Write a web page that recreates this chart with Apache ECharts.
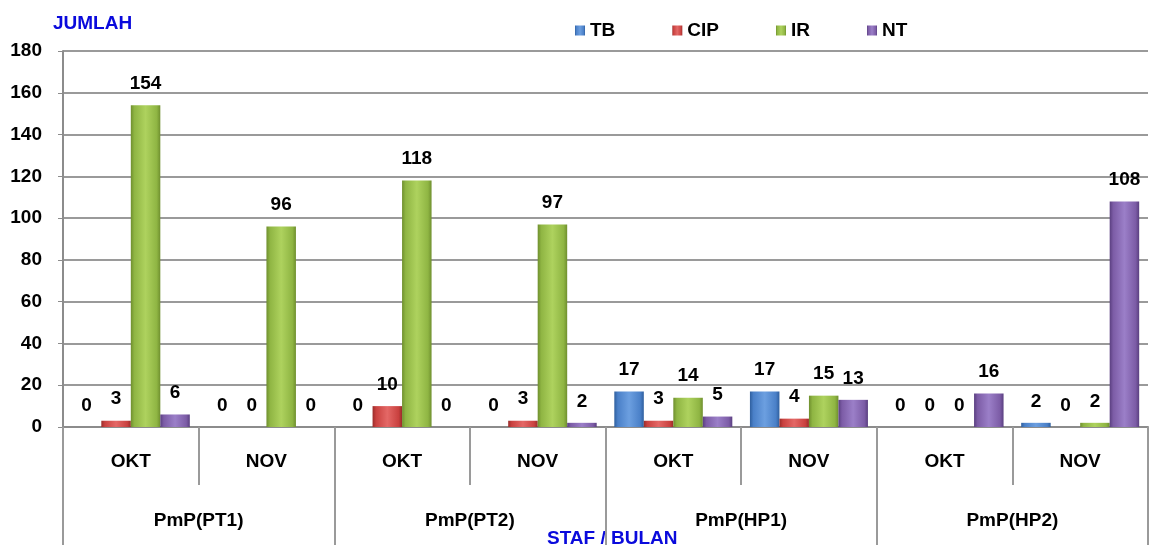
<!DOCTYPE html>
<html>
<head>
<meta charset="utf-8">
<script src="https://cdn.jsdelivr.net/npm/echarts@6/dist/echarts.min.js"></script>
<style>html,body{margin:0;padding:0;background:#fff}#c{width:1149px;height:547px}</style>
</head>
<body>
<div id="c"></div>
<script>
const months = ['OKT','NOV','OKT','NOV','OKT','NOV','OKT','NOV'];
const groups = ['PmP(PT1)','PmP(PT2)','PmP(HP1)','PmP(HP2)'];
const seriesNames = ['TB','CIP','IR','NT'];
const tb  = [0, 0, 0, 0, 17, 17, 0, 2];
const cip = [3, 0, 10, 3, 3, 4, 0, 0];
const ir  = [154, 96, 118, 97, 14, 15, 0, 2];
const nt  = [6, 0, 0, 2, 5, 13, 16, 108];
const yTicks = [0, 20, 40, 60, 80, 100, 120, 140, 160, 180];

const FONT = '"Liberation Sans", Arial, sans-serif';
const palette = [
  {base:'#4a80c8', light:'#6c9fe0', dark:'#2f5f9e'},
  {base:'#c9413f', light:'#e46866', dark:'#9a2c2a'},
  {base:'#8fb543', light:'#aed25e', dark:'#6f8f2e'},
  {base:'#7c5ca6', light:'#9b7fc8', dark:'#5a3f80'}
];
function grad(p){
  return new echarts.graphic.LinearGradient(0,0,1,0,[
    {offset:0,color:p.dark},{offset:0.12,color:p.base},
    {offset:0.5,color:p.light},{offset:0.88,color:p.base},{offset:1,color:p.dark}
  ]);
}
const values = [tb, cip, ir, nt];
const chart = echarts.init(document.getElementById('c'));
chart.setOption({
  animation:false,
  textStyle:{fontFamily:FONT},
  grid:{left:63, right:1, top:51, bottom:120, containLabel:false},
  legend:{
    left:575, top:21, padding:0, itemWidth:10, itemHeight:10, itemGap:57, icon:'rect',
    data:seriesNames,
    textStyle:{fontFamily:FONT, fontWeight:'bold', fontSize:19, color:'#000'}
  },
  graphic:[
    {type:'text', left:53, top:14, style:{text:'JUMLAH', fill:'#0a0adc', font:'bold 19px '+FONT}},
    {type:'text', left:547, top:529, style:{text:'STAF / BULAN', fill:'#0a0adc', font:'bold 19px '+FONT}}
  ],
  xAxis:[
    {
      type:'category', data:months, position:'bottom',
      axisLine:{show:true, lineStyle:{color:'#8c8c8c', width:2}},
      axisTick:{show:true, length:58, interval:0, lineStyle:{color:'#9a9a9a', width:2}},
      axisLabel:{interval:0, margin:25, fontFamily:FONT, fontWeight:'bold', fontSize:19, color:'#000'},
      splitLine:{show:false}
    },
    {
      type:'category', data:groups, position:'bottom',
      axisLine:{show:false},
      axisTick:{show:true, length:118, interval:0, lineStyle:{color:'#9a9a9a', width:2}},
      axisLabel:{interval:0, margin:84, fontFamily:FONT, fontWeight:'bold', fontSize:19, color:'#000'},
      splitLine:{show:false}
    }
  ],
  yAxis:{
    type:'value', min:yTicks[0], max:yTicks[yTicks.length-1], interval:20,
    axisLine:{show:true, lineStyle:{color:'#8c8c8c', width:2}},
    axisTick:{show:true, length:5, lineStyle:{color:'#8c8c8c'}},
    axisLabel:{margin:21, fontFamily:FONT, fontWeight:'bold', fontSize:19, color:'#000'},
    splitLine:{show:true, lineStyle:{color:'#9a9a9a', width:2}}
  },
  series: seriesNames.map((n,i)=>({
    name:n, type:'bar', xAxisIndex:0, data:values[i],
    barGap:'0%', barCategoryGap:'13%',
    itemStyle:{color:grad(palette[i]), borderWidth:0},
    label:{show:true, position:'top', distance:12, fontFamily:FONT, fontWeight:'bold', fontSize:19, color:'#000'}
  })),
  color: palette.map(p=>p.base)
});
</script>
</body>
</html>
